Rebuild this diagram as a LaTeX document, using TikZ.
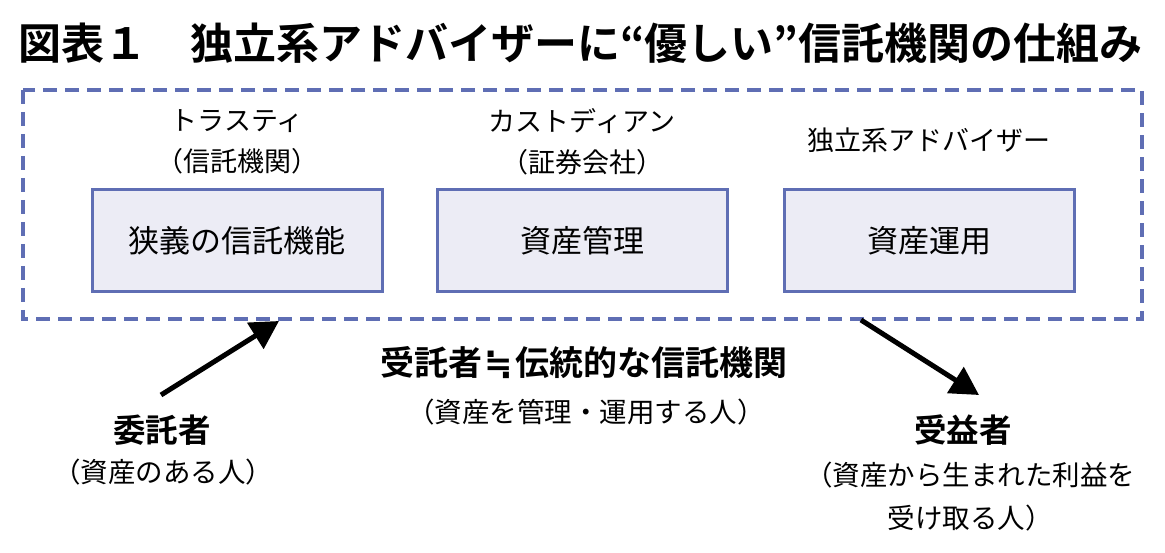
\documentclass[tikz,border=0pt]{standalone}
\usepackage{fontspec}
\setmainfont{Noto Sans CJK JP}[BoldFont={Noto Sans CJK JP Bold}]
\newfontfamily\symfont{DejaVu Sans}[BoldFont={DejaVu Sans Bold}]
\usetikzlibrary{arrows.meta}
\definecolor{framecol}{HTML}{5F6EB4}
\definecolor{boxfill}{HTML}{ECECF5}
\tikzset{
  frame/.style={draw=framecol, line width=3.5pt, dash pattern=on 14pt off 8pt},
  funcbox/.style={draw=framecol, line width=3pt, fill=boxfill, minimum width=290pt, minimum height=102pt, inner sep=0pt, font=\fontsize{31}{36}\selectfont},
  rolelabel/.style={align=center, inner sep=0pt, font=\fontsize{27}{41}\selectfont},
  person/.style={align=center, inner sep=0pt, font=\fontsize{32.5}{38}\selectfont\bfseries},
  note/.style={align=center, inner sep=0pt, font=\fontsize{27.5}{43}\selectfont},
  flow/.style={line width=5pt, -{Triangle[length=28pt,width=30pt]}}
}
\begin{document}
\begin{tikzpicture}[x=1pt,y=-1pt]
\useasboundingbox (0,0) rectangle (1165,553);
% title
\node[anchor=west, inner sep=0pt, font=\fontsize{43}{50}\selectfont\bfseries] (title) at (18,43) {図表１　独立系アドバイザーに“優しい”信託機関の仕組み};
% frame
\draw[frame] (23,90) rectangle (1142,319);
% role labels
\node[rolelabel] (trustee) at (237,142) {トラスティ\\（信託機関）};
\node[rolelabel] (custodian) at (582,142) {カストディアン\\（証券会社）};
\node[rolelabel] (advisor) at (929,140) {独立系アドバイザー};
% boxes
\node[funcbox] (b1) at (237,241) {狭義の信託機能};
\node[funcbox] (b2) at (582,241) {資産管理};
\node[funcbox] (b3) at (929,241) {資産運用};
% center text
\node[person, font=\fontsize{34}{40}\selectfont\bfseries] (trust) at (584,363) {受託者\hspace{2pt}{\symfont\bfseries ≒}\hspace{2pt}伝統的な信託機関};
\node[note] (trustnote) at (586,412) {（資産を管理・運用する人）};
% settlor
\node[person] (settlor) at (162,430) {委託者};
\node[note] (settlornote) at (163,472) {（資産のある人）};
% beneficiary
\node[person] (benef) at (963,430) {受益者};
\node[note] (benefnote) at (970,497) {（資産から生まれた利益を\\受け取る人）};
% arrows
\coordinate (a1s) at (161,395);
\coordinate (a1e) at (279,321);
\coordinate (a2s) at (861,320);
\coordinate (a2e) at (979,395);
\draw[flow] (a1s) -- (a1e);
\draw[flow] (a2s) -- (a2e);
\end{tikzpicture}
\end{document}
